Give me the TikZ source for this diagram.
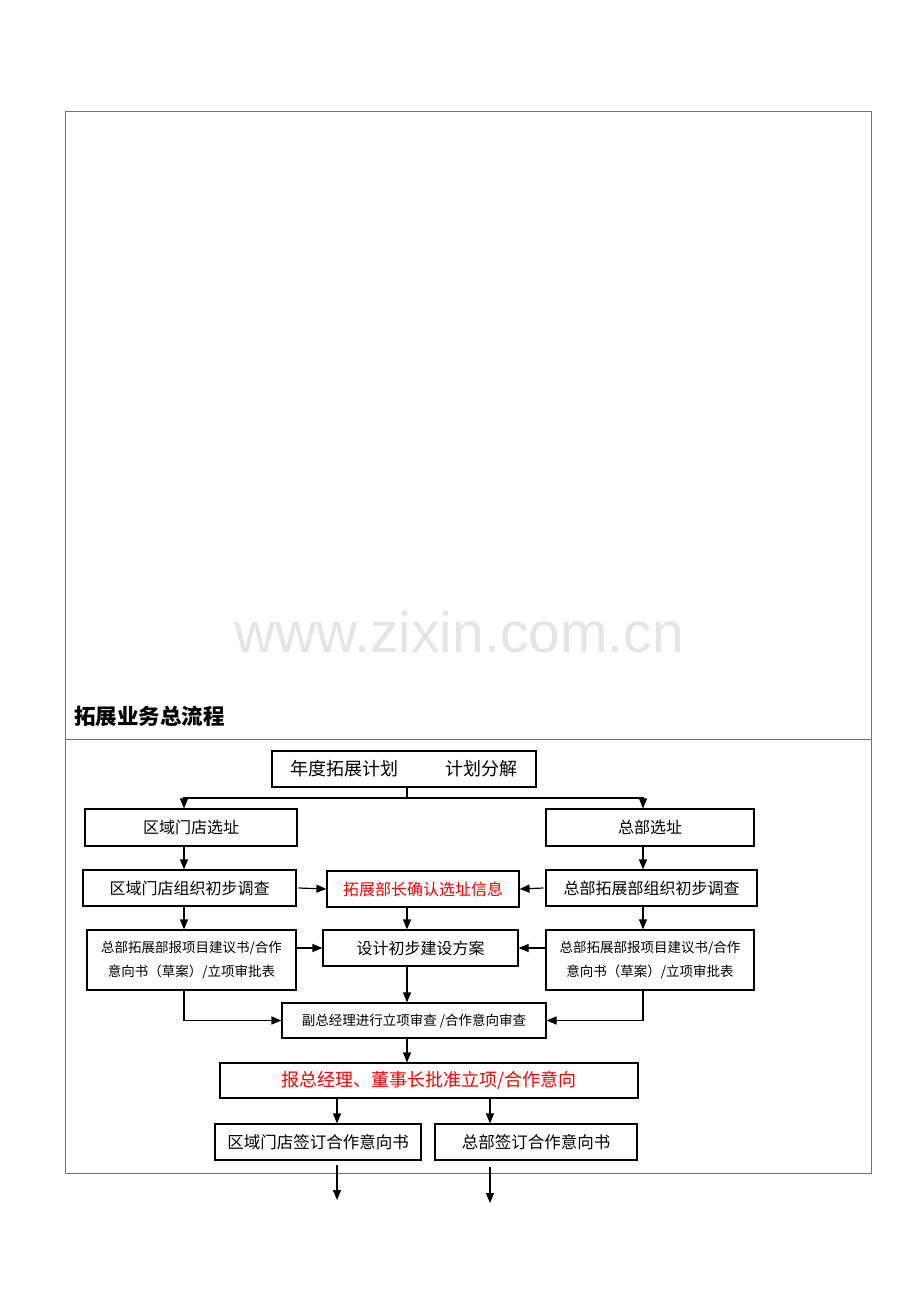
\documentclass[tikz,border=0pt]{standalone}
\usepackage{fontspec}
\usepackage{xcolor}
\usepackage{tikz}
\usetikzlibrary{arrows.meta}
\newfontfamily\cjk{Noto Sans CJK SC}
\newfontfamily\wmfont{Liberation Sans}
\tikzset{
	hop/.style={draw, line width=1.2pt, inner sep=0pt, align=center, font=\cjk\fontsize{16}{20}\selectfont},
	hopnho/.style={hop, font=\cjk\fontsize{13.5}{24}\selectfont},
	muiten/.style={-{Triangle[length=10pt,width=8pt]}, line width=1.2pt},
}

\begin{document}
\begin{tikzpicture}[x=1pt,y=-1pt]
			\useasboundingbox (0,0) rectangle (920,1302);
			% Vẽ khung
			\draw [black!55, line width=0.8pt] (65,111) rectangle (871,1173);
			\draw [black!55, line width=0.8pt] (65,739) -- (871,739);
			\node [font=\wmfont\fontsize{57}{60}\selectfont, text=black!10] (wm) at (459,632) {www.zixin.com.cn};
			\node [anchor=west, inner sep=0pt, font=\cjk\bfseries\fontsize{21.5}{24}\selectfont] (tieude) at (74,716) {拓展业务总流程};
			% Vẽ các hộp
			\node [hop, minimum width=264, minimum height=36, font=\cjk\fontsize{18}{22}\selectfont] (kehoach) at (404,769) {年度拓展计划\hspace{48pt}计划分解};
			\node [hop, minimum width=212, minimum height=37] (qysite) at (191,827.5) {区域门店选址};
			\node [hop, minimum width=208, minimum height=37] (hqsite) at (650,827.5) {总部选址};
			\node [hop, minimum width=213, minimum height=36] (qysurvey) at (189.5,888) {区域门店组织初步调查};
			\node [hop, minimum width=192, minimum height=36, text=red] (confirm) at (423,889) {拓展部长确认选址信息};
			\node [hop, minimum width=211, minimum height=36] (hqsurvey) at (651.5,888) {总部拓展部组织初步调查};
			\node [hopnho, minimum width=209, minimum height=60] (qyreport) at (191.5,960) {总部拓展部报项目建议书/合作\\意向书（草案）/立项审批表};
			\node [hop, minimum width=195, minimum height=36] (design) at (420.5,948) {设计初步建设方案};
			\node [hopnho, minimum width=208, minimum height=60] (hqreport) at (650,960) {总部拓展部报项目建议书/合作\\意向书（草案）/立项审批表};
			\node [hopnho, minimum width=264, minimum height=35] (vpreview) at (414,1020.5) {副总经理进行立项审查 /合作意向审查};
			\node [hop, minimum width=418, minimum height=35, text=red, font=\cjk\fontsize{18}{22}\selectfont] (approve) at (429,1080.5) {报总经理、董事长批准立项/合作意向};
			\node [hop, minimum width=206, minimum height=36, font=\cjk\fontsize{16.5}{20}\selectfont] (qysign) at (318,1142) {区域门店签订合作意向书};
			\node [hop, minimum width=202, minimum height=36, font=\cjk\fontsize{16.5}{20}\selectfont] (hqsign) at (536,1142) {总部签订合作意向书};
			% Vẽ mũi tên
			\coordinate (xl) at (184,0);
			\coordinate (xr) at (643,0);
			\coordinate (xm) at (407,0);
			\coordinate (xa) at (337,0);
			\coordinate (xb) at (490,0);
			\coordinate (re) at (407,798);
			\draw [line width=1.2pt] (kehoach.south -| xm) -- (re);
			\draw [muiten] (re) -| (qysite.north -| xl);
			\draw [muiten] (re) -| (hqsite.north -| xr);
			\draw [muiten] (qysite.south -| xl) -- (qysurvey.north -| xl);
			\draw [muiten] (hqsite.south -| xr) -- (hqsurvey.north -| xr);
			\draw [muiten] ([xshift=2pt]qysurvey.east) -- (confirm.west);
			\draw [muiten] ([xshift=-2pt]hqsurvey.west) -- (confirm.east);
			\draw [muiten] (confirm.south -| xm) -- (design.north -| xm);
			\draw [muiten] (qysurvey.south -| xl) -- (qyreport.north -| xl);
			\draw [muiten] (hqsurvey.south -| xr) -- (hqreport.north -| xr);
			\draw [muiten] (qyreport.east |- design.west) -- (design.west);
			\draw [muiten] (hqreport.west |- design.east) -- (design.east);
			\draw [muiten] (design.south -| xm) -- (vpreview.north -| xm);
			\draw [muiten] (qyreport.south -| xl) |- (vpreview.west);
			\draw [muiten] (hqreport.south -| xr) |- (vpreview.east);
			\draw [muiten] (vpreview.south -| xm) -- (approve.north -| xm);
			\draw [muiten] (approve.south -| xa) -- (qysign.north -| xa);
			\draw [muiten] (approve.south -| xb) -- (hqsign.north -| xb);
			\coordinate (da) at (337,1165);
			\coordinate (ra) at (337,1200);
			\coordinate (db) at (490,1167);
			\coordinate (rb) at (490,1203);
			\draw [muiten] (da) -- (ra);
			\draw [muiten] (db) -- (rb);
		\end{tikzpicture}
\end{document}
